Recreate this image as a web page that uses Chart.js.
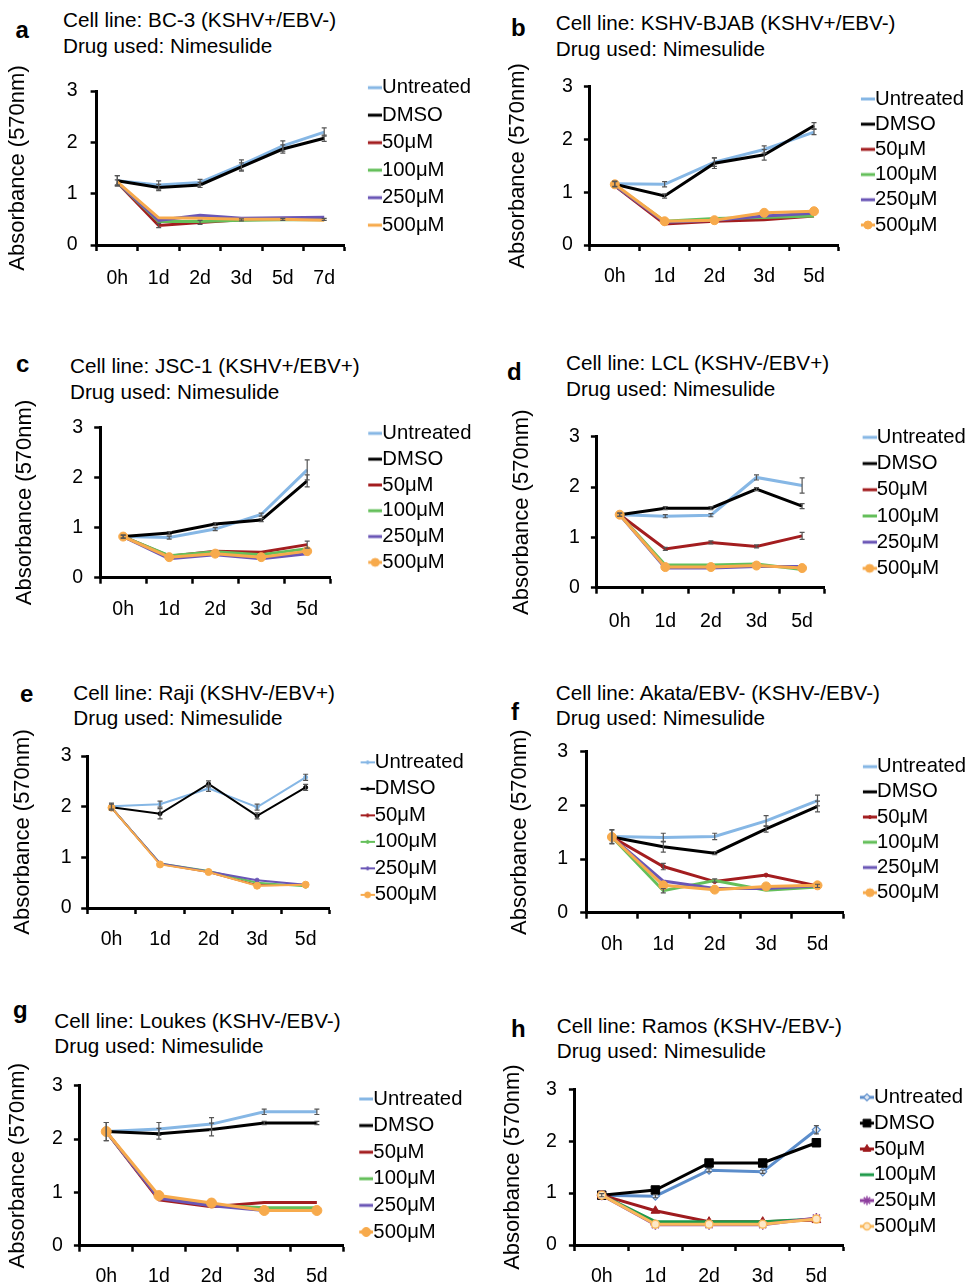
<!DOCTYPE html>
<html lang="en">
<head>
<meta charset="UTF-8">
<title>Nimesulide - cell viability</title>
<script src="https://cdn.jsdelivr.net/npm/chart.js"></script>
<style>
    body {
        margin: 0;
        width: 966px;
        height: 1288px;
        overflow: hidden;
        position: relative;
        background: #fff;
        color: #000;
        font-family: 'Liberation Sans', Arial, Helvetica, sans-serif;
    }
    canvas { position: absolute; }
    .txt {
        position: absolute;
        white-space: nowrap;
        font-size: 20.7px;
        line-height: 20.7px;
    }
    .letter {
        position: absolute;
        font-weight: bold;
        font-size: 24px;
        line-height: 24px;
    }
</style>
</head>
<body>
<script>
const FONT = "'Liberation Sans', Arial, Helvetica, sans-serif";

const SERIES = ['Untreated', 'DMSO', '50μM', '100μM', '250μM', '500μM'];
const DAYS_7 = ['0h', '1d', '2d', '3d', '5d', '7d'];
const DAYS_5 = ['0h', '1d', '2d', '3d', '5d'];
const Y_TICKS = [0, 1, 2, 3];
const DRUG = 'Nimesulide';

// values per series, in SERIES order
const bc3Vals = [
    [1.25, 1.17, 1.22, 1.56, 1.93, 2.20],
    [1.25, 1.12, 1.17, 1.52, 1.87, 2.08],
    [1.22, 0.38, 0.44, 0.49, 0.50, 0.50],
    [1.22, 0.46, 0.46, 0.48, 0.49, 0.49],
    [1.22, 0.48, 0.58, 0.52, 0.53, 0.54],
    [1.23, 0.53, 0.52, 0.50, 0.50, 0.48]
];
const bc3Err = [
    [0.10, 0.08, 0.06, 0.10, 0.10, 0.08],
    [0.10, 0.06, 0.05, 0.08, 0.08, 0.06],
    [0.05, 0.04, 0.04, 0.02, 0.02, 0.02],
    null, null, null
];

const bjabVals = [
    [1.16, 1.15, 1.57, 1.81, 2.14],
    [1.15, 0.93, 1.55, 1.71, 2.26],
    [1.12, 0.40, 0.45, 0.48, 0.55],
    [1.13, 0.45, 0.50, 0.52, 0.55],
    [1.13, 0.43, 0.47, 0.55, 0.60],
    [1.15, 0.45, 0.47, 0.61, 0.64]
];
const bjabErr = [
    [0.05, 0.05, 0.08, 0.07, 0.05],
    [0.05, 0.04, 0.10, 0.10, 0.06],
    null, null, null, null
];

const jscVals = [
    [0.82, 0.80, 0.97, 1.26, 2.15],
    [0.82, 0.89, 1.07, 1.15, 1.93],
    [0.82, 0.43, 0.53, 0.51, 0.66],
    [0.82, 0.44, 0.52, 0.46, 0.58],
    [0.82, 0.38, 0.46, 0.38, 0.48],
    [0.82, 0.41, 0.48, 0.41, 0.53]
];
const jscErr = [
    [0.03, 0.03, 0.03, 0.03, 0.20],
    [0.03, 0.03, 0.03, 0.03, 0.12],
    [0, 0, 0, 0, 0.07],
    null, null, null
];

const lclVals = [
    [1.45, 1.42, 1.44, 2.19, 2.03],
    [1.45, 1.58, 1.58, 1.96, 1.62],
    [1.45, 0.77, 0.90, 0.82, 1.03],
    [1.45, 0.45, 0.45, 0.47, 0.36],
    [1.45, 0.39, 0.39, 0.42, 0.42],
    [1.45, 0.41, 0.41, 0.44, 0.39]
];
const lclErr = [
    [0.03, 0.03, 0.03, 0.05, 0.15],
    [0.03, 0.03, 0.03, 0.03, 0.05],
    [0, 0.03, 0.03, 0.03, 0.07],
    null, null, null
];

const rajiVals = [
    [2.01, 2.05, 2.36, 1.99, 2.58],
    [1.99, 1.86, 2.45, 1.82, 2.38],
    [1.98, 0.87, 0.71, 0.45, 0.46],
    [1.98, 0.88, 0.73, 0.50, 0.43],
    [1.98, 0.88, 0.72, 0.55, 0.46],
    [1.98, 0.86, 0.71, 0.44, 0.46]
];
const rajiErr = [
    [0.06, 0.06, 0.06, 0.06, 0.06],
    [0.06, 0.10, 0.06, 0.06, 0.06],
    null, null, null, null
];

const akataVals = [
    [1.42, 1.40, 1.42, 1.71, 2.09],
    [1.41, 1.23, 1.11, 1.56, 1.98],
    [1.41, 0.86, 0.58, 0.70, 0.50],
    [1.41, 0.41, 0.60, 0.42, 0.48],
    [1.41, 0.59, 0.45, 0.45, 0.50],
    [1.41, 0.51, 0.43, 0.49, 0.51]
];
const akataErr = [
    [0.13, 0.08, 0.06, 0.10, 0.10],
    [0.13, 0.10, 0.03, 0.06, 0.10],
    [0, 0.06, 0, 0, 0.03],
    [0, 0.04, 0.03, 0, 0],
    null, null
];

const loukesVals = [
    [2.14, 2.19, 2.28, 2.51, 2.51],
    [2.14, 2.10, 2.18, 2.30, 2.30],
    [2.14, 0.86, 0.73, 0.81, 0.81],
    [2.14, 0.90, 0.76, 0.71, 0.71],
    [2.14, 0.89, 0.75, 0.66, 0.66],
    [2.14, 0.94, 0.80, 0.66, 0.66]
];
const loukesErr = [
    [0.17, 0.12, 0.12, 0.05, 0.05],
    [0.17, 0.10, 0.12, 0.03, 0.03],
    null, null, null, null
];

const ramosVals = [
    [0.96, 0.94, 1.44, 1.41, 2.22],
    [0.96, 1.06, 1.58, 1.58, 1.97],
    [0.96, 0.66, 0.45, 0.45, 0.48],
    [0.96, 0.45, 0.45, 0.45, 0.50],
    [0.96, 0.39, 0.39, 0.39, 0.52],
    [0.96, 0.40, 0.40, 0.40, 0.50]
];
const ramosErr = [
    [0.03, 0.03, 0.03, 0.03, 0.08],
    null, null, null, null, null
];

const STD_COLORS = ['#86b7e5', '#000000', '#a31d1f', '#64bf5a', '#6a56b6', '#f7aa4c'];
const RAMOS_COLORS = ['#5b8dcb', '#000000', '#9e1b1e', '#1f9a4a', '#8e3f9f', '#f9b85a'];

const DOT = { style: 'circle', r: 4.5 };
const SMALL = { style: 'circle', r: 2 };

// layout of each panel in page pixels
const PANELS = [
    { letter: 'a', cell: 'BC-3 (KSHV+/EBV-)', labels: DAYS_7, vals: bc3Vals, errs: bc3Err,
      colors: STD_COLORS, lineW: 3, marks: [null, null, null, null, null, null],
      titleCX: 18.3, axisX: 96.7, top: 91, bottom: 245, right: 345, cTop: 60, cBot: 300, cRight: 480,
      lgLine: 368, lgC0: 87.5, lgGap: 27.2, labelOff: 34, yGap: 19,
      letterX: 15.5, letterBase: 38.5, titleX: 63, base1: 27.3, base2: 53.3 },
    { letter: 'b', cell: 'KSHV-BJAB (KSHV+/EBV-)', labels: DAYS_5, vals: bjabVals, errs: bjabErr,
      colors: STD_COLORS, lineW: 3, marks: [null, null, null, null, null, DOT],
      titleCX: 518.3, axisX: 590, top: 86.7, bottom: 245, right: 839, cTop: 60, cBot: 300, cRight: 966,
      lgLine: 861, lgC0: 98.8, lgGap: 24.9, labelOff: 31.7, yGap: 17,
      letterX: 511, letterBase: 36.7, titleX: 555.7, base1: 30.7, base2: 56 },
    { letter: 'c', cell: 'JSC-1 (KSHV+/EBV+)', labels: DAYS_5, vals: jscVals, errs: jscErr,
      colors: STD_COLORS, lineW: 3, marks: [null, null, null, null, null, DOT],
      titleCX: 25, axisX: 100, top: 427.3, bottom: 577.7, right: 330, cTop: 400, cBot: 640, cRight: 480,
      lgLine: 368, lgC0: 433.2, lgGap: 25.5, labelOff: 31.6, yGap: 17,
      letterX: 16, letterBase: 372, titleX: 70, base1: 373.3, base2: 399 },
    { letter: 'd', cell: 'LCL (KSHV-/EBV+)', labels: DAYS_5, vals: lclVals, errs: lclErr,
      colors: STD_COLORS, lineW: 3, marks: [null, null, null, null, null, DOT],
      titleCX: 522.3, axisX: 597, top: 436.7, bottom: 587.7, right: 825, cTop: 405, cBot: 645, cRight: 966,
      lgLine: 862.7, lgC0: 437.2, lgGap: 25.9, labelOff: 34, yGap: 17,
      letterX: 507, letterBase: 380.7, titleX: 566, base1: 370.7, base2: 396.7 },
    { letter: 'e', cell: 'Raji (KSHV-/EBV+)', labels: DAYS_5, vals: rajiVals, errs: rajiErr,
      colors: STD_COLORS, lineW: 2, marks: [SMALL, SMALL, SMALL, SMALL, SMALL, { style: 'circle', r: 3.5 }],
      titleCX: 23.3, axisX: 87.3, top: 756, bottom: 908, right: 330, cTop: 730, cBot: 970, cRight: 480,
      lgLine: 360.7, lgC0: 762.2, lgGap: 26.2, labelOff: 32, yGap: 15.5,
      letterX: 20, letterBase: 702, titleX: 73.3, base1: 700, base2: 725 },
    { letter: 'f', cell: 'Akata/EBV- (KSHV-/EBV-)', labels: DAYS_5, vals: akataVals, errs: akataErr,
      colors: STD_COLORS, lineW: 3, marks: [null, null, SMALL, null, null, DOT],
      titleCX: 520, axisX: 586, top: 746, bottom: 912.7, right: 843, cTop: 728, cBot: 970, cRight: 966,
      lgLine: 862.7, lgC0: 766.5, lgGap: 24.9, labelOff: 32.3, yGap: 18,
      letterX: 511, letterBase: 720, titleX: 555.7, base1: 700, base2: 725 },
    { letter: 'g', cell: 'Loukes (KSHV-/EBV-)', labels: DAYS_5, vals: loukesVals, errs: loukesErr,
      colors: STD_COLORS, lineW: 3, marks: [null, null, null, null, null, { style: 'circle', r: 5 }],
      titleCX: 18.3, axisX: 80, top: 1085.7, bottom: 1245.7, right: 343.3, cTop: 1060, cBot: 1288, cRight: 480,
      lgLine: 359.3, lgC0: 1098.8, lgGap: 26.3, labelOff: 31, yGap: 17,
      letterX: 13, letterBase: 1018.3, titleX: 54.3, base1: 1028.3, base2: 1053.3 },
    { letter: 'h', cell: 'Ramos (KSHV-/EBV-)', labels: DAYS_5, vals: ramosVals, errs: ramosErr,
      colors: RAMOS_COLORS, lineW: 3,
      marks: [
          { style: 'rectRot', r: 4, fill: '#dfe8f4', bw: 1.2 },
          { style: 'rect', r: 6, fill: '#000000' },
          { style: 'triangle', r: 5, fill: '#9e1b1e' },
          null,
          { style: 'star', r: 5, fill: '#d9c2e0', bw: 1.5 },
          { style: 'circle', r: 4, fill: '#fde8c8', bw: 1.5 }
      ],
      titleCX: 513.3, axisX: 575, top: 1089.3, bottom: 1245, right: 843.3, cTop: 1060, cBot: 1288, cRight: 966,
      lgLine: 860, lgC0: 1097.2, lgGap: 25.5, labelOff: 31.7, yGap: 18,
      letterX: 511, letterBase: 1037.3, titleX: 556.7, base1: 1033.3, base2: 1058.3 }
];

function addText(text, x, y, cls) {
    const d = document.createElement('div');
    d.className = cls;
    d.textContent = text;
    d.style.left = x + 'px';
    d.style.top = y + 'px';
    document.body.appendChild(d);
}

function drawMark(g, m, x, y) {
    if (Chart.helpers && Chart.helpers.drawPoint) {
        Chart.helpers.drawPoint(g, { pointStyle: m.style, radius: m.r, rotation: 0, borderWidth: m.bw || 1 }, x, y);
    } else {
        g.beginPath();
        g.arc(x, y, m.r, 0, Math.PI * 2);
        g.fill();
        g.stroke();
    }
}

// legend swatch: short line that ends where the label starts, plus the marker
function makeSwatch(color, lineW, m) {
    const c = document.createElement('canvas');
    c.width = 24;
    c.height = 20;
    const g = c.getContext('2d');
    g.strokeStyle = color;
    g.lineWidth = lineW;
    g.beginPath();
    g.moveTo(10, 10);
    g.lineTo(24, 10);
    g.stroke();
    if (m) {
        g.fillStyle = m.fill || color;
        g.strokeStyle = color;
        g.lineWidth = m.bw || 1;
        drawMark(g, { style: m.style, r: Math.max(m.r - 0.5, 1.5), bw: m.bw }, 17, 10);
    }
    return c;
}

// fixes legend width and places it where the figure has it
function legendPlacer(width, left, top) {
    return {
        id: 'legendPlacer',
        beforeLayout(chart) {
            const lg = chart.legend;
            if (lg && !lg.$fixed) {
                const fit = lg.fit.bind(lg);
                lg.fit = function () { fit(); this.width = width; };
                lg.$fixed = true;
            }
        },
        afterLayout(chart) {
            const lg = chart.legend;
            if (!lg) return;
            lg.left = left;
            lg.right = left + width;
            lg.top = top;
            lg.bottom = top + 400;
        }
    };
}

const errorBars = {
    id: 'errorBars',
    afterDatasetsDraw(chart) {
        const { ctx, scales: { x, y } } = chart;
        ctx.save();
        ctx.strokeStyle = '#555';
        ctx.lineWidth = 1.2;
        chart.data.datasets.forEach(ds => {
            if (!ds.errors) return;
            ds.data.forEach((v, j) => {
                const e = ds.errors[j];
                if (!e) return;
                const px = x.getPixelForValue(j);
                const t = y.getPixelForValue(v + e);
                const b = y.getPixelForValue(v - e);
                ctx.beginPath();
                ctx.moveTo(px, t); ctx.lineTo(px, b);
                ctx.moveTo(px - 2.5, t); ctx.lineTo(px + 2.5, t);
                ctx.moveTo(px - 2.5, b); ctx.lineTo(px + 2.5, b);
                ctx.stroke();
            });
        });
        ctx.restore();
    }
};

PANELS.forEach(p => {
    addText(p.letter, p.letterX, p.letterBase - 20.3, 'letter');
    addText('Cell line: ' + p.cell, p.titleX, p.base1 - 17.5, 'txt');
    addText('Drug used: ' + DRUG, p.titleX, p.base2 - 17.5, 'txt');

    const cLeft = p.titleCX - 13.2;
    const w = Math.round(p.cRight - cLeft);
    const h = p.cBot - p.cTop;
    const cv = document.createElement('canvas');
    cv.width = w;
    cv.height = h;
    cv.style.left = cLeft + 'px';
    cv.style.top = p.cTop + 'px';
    cv.style.width = w + 'px';
    cv.style.height = h + 'px';
    document.body.appendChild(cv);

    const legendW = (cLeft + w) - p.right;
    const pad = p.lgGap - 20;
    const lgLeft = p.lgLine - pad - cLeft;
    const lgTop = p.lgC0 - 10 - pad - p.cTop;

    const swatches = SERIES.map((s, i) => makeSwatch(p.colors[i], p.lineW, p.marks[i]));

    const datasets = SERIES.map((name, i) => {
        const color = p.colors[i];
        const m = p.marks[i];
        return {
            label: name,
            data: p.vals[i],
            errors: p.errs[i],
            borderColor: color,
            backgroundColor: color,
            borderWidth: p.lineW,
            tension: 0,
            fill: false,
            order: SERIES.length - i,
            pointRadius: m ? m.r : 0,
            pointHoverRadius: m ? m.r : 0,
            pointStyle: m ? m.style : 'circle',
            pointBackgroundColor: m ? (m.fill || color) : color,
            pointBorderColor: color,
            pointBorderWidth: m ? (m.bw || 1) : 0
        };
    });

    new Chart(cv.getContext('2d'), {
        type: 'line',
        data: { labels: p.labels, datasets: datasets },
        options: {
            responsive: false,
            maintainAspectRatio: false,
            animation: false,
            layout: { padding: { top: p.top - p.cTop, left: 0, right: 0, bottom: 0 } },
            plugins: {
                tooltip: { enabled: false },
                title: { display: false },
                legend: {
                    display: true,
                    position: 'right',
                    align: 'start',
                    labels: {
                        usePointStyle: true,
                        pointStyleWidth: 4,
                        padding: pad,
                        color: '#000',
                        font: { family: FONT, size: 20.3 },
                        generateLabels: () => SERIES.map((name, i) => ({
                            text: name,
                            pointStyle: swatches[i],
                            fillStyle: p.colors[i],
                            strokeStyle: p.colors[i],
                            lineWidth: 0,
                            hidden: false,
                            datasetIndex: i,
                            fontColor: '#000'
                        }))
                    }
                }
            },
            scales: {
                x: {
                    type: 'category',
                    offset: true,
                    grid: { offset: true, drawOnChartArea: false, tickLength: 6, tickWidth: 2.5, tickColor: '#000' },
                    border: { color: '#000', width: 3 },
                    ticks: {
                        color: '#000',
                        font: { family: FONT, size: 19.5 },
                        padding: p.labelOff - 6 - 11.7,
                        maxRotation: 0,
                        autoSkip: false
                    },
                    afterFit: s => { s.height = p.cBot - p.bottom; }
                },
                y: {
                    min: 0,
                    max: 3,
                    afterBuildTicks: s => { s.ticks = Y_TICKS.map(v => ({ value: v })); },
                    grid: { drawOnChartArea: false, tickLength: 6, tickWidth: 2.5, tickColor: '#000' },
                    border: { color: '#000', width: 3 },
                    ticks: {
                        color: '#000',
                        font: { family: FONT, size: 19.5 },
                        padding: p.yGap - 6
                    },
                    title: {
                        display: true,
                        text: 'Absorbance (570nm)',
                        color: '#000',
                        font: { family: FONT, size: 22 },
                        padding: 0
                    },
                    afterFit: s => { s.width = p.axisX - cLeft; }
                }
            }
        },
        plugins: [legendPlacer(legendW, lgLeft, lgTop), errorBars]
    });
});
</script>
</body>
</html>
